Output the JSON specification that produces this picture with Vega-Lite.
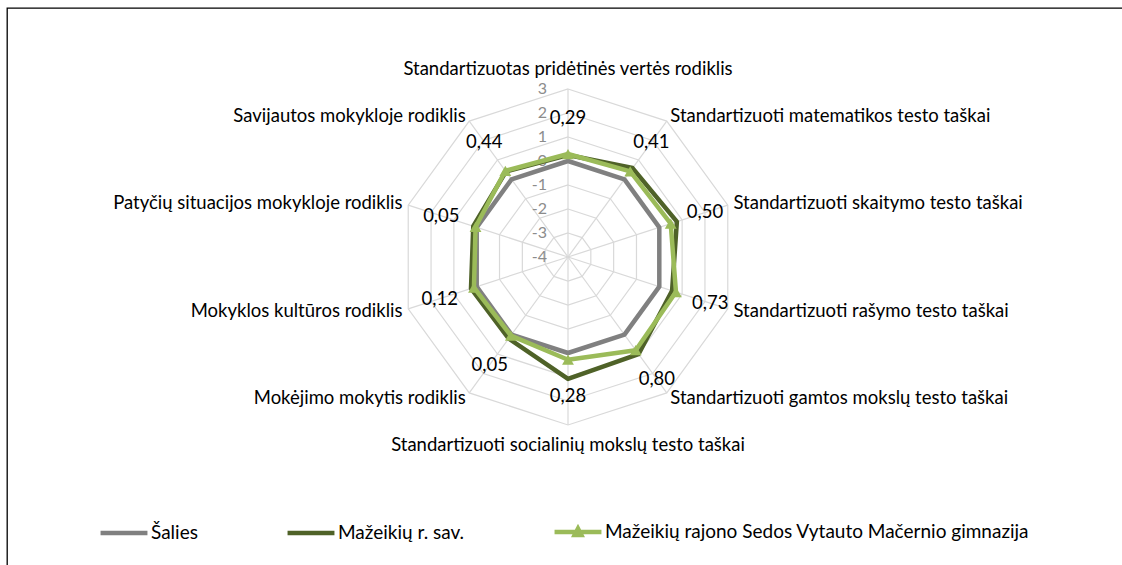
{
  "$schema": "https://vega.github.io/schema/vega-lite/v6.json",
  "width": 1122,
  "height": 565,
  "padding": {"left": 7, "top": 8, "right": 0, "bottom": 0},
  "autosize": {"type": "none"},
  "background": "white",
  "config": {"view": {"stroke": "#000000", "strokeWidth": 1.3}, "font": "Lato"},
  "datasets": {
    "axes": [
      {"i": 0, "cat": "Standartizuotas pridėtinės vertės rodiklis", "rings": [-3, -2, -1, 0, 1, 2, 3]},
      {"i": 1, "cat": "Standartizuoti matematikos testo taškai", "rings": [-3, -2, -1, 0, 1, 2, 3]},
      {"i": 2, "cat": "Standartizuoti skaitymo testo taškai", "rings": [-3, -2, -1, 0, 1, 2, 3]},
      {"i": 3, "cat": "Standartizuoti rašymo testo taškai", "rings": [-3, -2, -1, 0, 1, 2, 3]},
      {"i": 4, "cat": "Standartizuoti gamtos mokslų testo taškai", "rings": [-3, -2, -1, 0, 1, 2, 3]},
      {"i": 5, "cat": "Standartizuoti socialinių mokslų testo taškai", "rings": [-3, -2, -1, 0, 1, 2, 3]},
      {"i": 6, "cat": "Mokėjimo mokytis rodiklis", "rings": [-3, -2, -1, 0, 1, 2, 3]},
      {"i": 7, "cat": "Mokyklos kultūros rodiklis", "rings": [-3, -2, -1, 0, 1, 2, 3]},
      {"i": 8, "cat": "Patyčių situacijos mokykloje rodiklis", "rings": [-3, -2, -1, 0, 1, 2, 3]},
      {"i": 9, "cat": "Savijautos mokykloje rodiklis", "rings": [-3, -2, -1, 0, 1, 2, 3]}
    ],
    "ticks": [
      {"v": 3, "t": "3"}, {"v": 2, "t": "2"}, {"v": 1, "t": "1"}, {"v": 0, "t": "0"},
      {"v": -1, "t": "-1"}, {"v": -2, "t": "-2"}, {"v": -3, "t": "-3"}, {"v": -4, "t": "-4"}
    ],
    "vals": [
      {"i": 0, "series": "Šalies", "value": 0},
      {"i": 1, "series": "Šalies", "value": 0},
      {"i": 2, "series": "Šalies", "value": 0},
      {"i": 3, "series": "Šalies", "value": 0},
      {"i": 4, "series": "Šalies", "value": 0},
      {"i": 5, "series": "Šalies", "value": 0},
      {"i": 6, "series": "Šalies", "value": 0},
      {"i": 7, "series": "Šalies", "value": 0},
      {"i": 8, "series": "Šalies", "value": 0},
      {"i": 9, "series": "Šalies", "value": 0},
      {"i": 0, "series": "Mažeikių r. sav.", "value": 0.25},
      {"i": 1, "series": "Mažeikių r. sav.", "value": 0.58},
      {"i": 2, "series": "Mažeikių r. sav.", "value": 0.77},
      {"i": 3, "series": "Mažeikių r. sav.", "value": 0.56},
      {"i": 4, "series": "Mažeikių r. sav.", "value": 1.0},
      {"i": 5, "series": "Mažeikių r. sav.", "value": 1.08},
      {"i": 6, "series": "Mažeikių r. sav.", "value": 0.2},
      {"i": 7, "series": "Mažeikių r. sav.", "value": 0.25},
      {"i": 8, "series": "Mažeikių r. sav.", "value": 0.15},
      {"i": 9, "series": "Mažeikių r. sav.", "value": 0.4},
      {"i": 0, "series": "Mažeikių rajono Sedos Vytauto Mačernio gimnazija", "value": 0.29, "lab": "0,29"},
      {"i": 1, "series": "Mažeikių rajono Sedos Vytauto Mačernio gimnazija", "value": 0.41, "lab": "0,41"},
      {"i": 2, "series": "Mažeikių rajono Sedos Vytauto Mačernio gimnazija", "value": 0.5, "lab": "0,50"},
      {"i": 3, "series": "Mažeikių rajono Sedos Vytauto Mačernio gimnazija", "value": 0.73, "lab": "0,73"},
      {"i": 4, "series": "Mažeikių rajono Sedos Vytauto Mačernio gimnazija", "value": 0.8, "lab": "0,80"},
      {"i": 5, "series": "Mažeikių rajono Sedos Vytauto Mačernio gimnazija", "value": 0.28, "lab": "0,28"},
      {"i": 6, "series": "Mažeikių rajono Sedos Vytauto Mačernio gimnazija", "value": 0.05, "lab": "0,05"},
      {"i": 7, "series": "Mažeikių rajono Sedos Vytauto Mačernio gimnazija", "value": 0.12, "lab": "0,12"},
      {"i": 8, "series": "Mažeikių rajono Sedos Vytauto Mačernio gimnazija", "value": 0.05, "lab": "0,05"},
      {"i": 9, "series": "Mažeikių rajono Sedos Vytauto Mačernio gimnazija", "value": 0.44, "lab": "0,44"}
    ]
  },
  "layer": [
    {
      "data": {"name": "axes"},
      "transform": [
        {"flatten": ["rings"]},
        {"calculate": "(datum.rings + 4) * sin(datum.i * PI / 5)", "as": "gx"},
        {"calculate": "(datum.rings + 4) * cos(datum.i * PI / 5)", "as": "gy"}
      ],
      "mark": {"type": "line", "interpolate": "linear-closed", "stroke": "#d9d9d9", "strokeWidth": 1.2},
      "encoding": {
        "x": {"field": "gx", "type": "quantitative", "scale": {"domain": [-23.375, 23.375], "nice": false, "zero": false}, "axis": null},
        "y": {"field": "gy", "type": "quantitative", "scale": {"domain": [-13.167, 10.375], "nice": false, "zero": false}, "axis": null},
        "detail": {"field": "rings", "type": "nominal"},
        "order": {"field": "i", "type": "quantitative"}
      }
    },
    {
      "data": {"name": "axes"},
      "transform": [
        {"calculate": "7 * sin(datum.i * PI / 5)", "as": "ox"},
        {"calculate": "7 * cos(datum.i * PI / 5)", "as": "oy"},
        {"calculate": "0", "as": "zero"}
      ],
      "mark": {"type": "rule", "stroke": "#d9d9d9", "strokeWidth": 1.2},
      "encoding": {
        "x": {"field": "zero", "type": "quantitative"},
        "y": {"field": "zero", "type": "quantitative"},
        "x2": {"field": "ox"},
        "y2": {"field": "oy"}
      }
    },
    {
      "data": {"name": "ticks"},
      "transform": [{"calculate": "datum.v + 4", "as": "ty"}, {"calculate": "0", "as": "zero"}],
      "mark": {"type": "text", "align": "right", "baseline": "middle", "dx": -21, "fontSize": 16, "color": "#8c8c8c"},
      "encoding": {
        "x": {"field": "zero", "type": "quantitative"},
        "y": {"field": "ty", "type": "quantitative"},
        "text": {"field": "t", "type": "nominal"}
      }
    },
    {
      "data": {"name": "vals"},
      "transform": [
        {"calculate": "(datum.value + 4) * sin(datum.i * PI / 5)", "as": "px"},
        {"calculate": "(datum.value + 4) * cos(datum.i * PI / 5)", "as": "py"}
      ],
      "mark": {"type": "line", "interpolate": "linear-closed", "strokeWidth": 4.5, "strokeJoin": "round"},
      "encoding": {
        "x": {"field": "px", "type": "quantitative"},
        "y": {"field": "py", "type": "quantitative"},
        "order": {"field": "i", "type": "quantitative"},
        "color": {
          "field": "series",
          "type": "nominal",
          "sort": null,
          "scale": {
            "domain": ["Šalies", "Mažeikių r. sav.", "Mažeikių rajono Sedos Vytauto Mačernio gimnazija"],
            "range": ["#808080", "#4f6228", "#9bbb59"]
          },
          "legend": {
            "orient": "none",
            "legendX": 91,
            "legendY": 498,
            "direction": "horizontal",
            "title": null,
            "symbolType": "stroke",
            "symbolSize": 2200,
            "symbolStrokeWidth": 4.5,
            "labelFont": "Lato",
            "labelFontSize": 19,
            "labelColor": "#000000",
            "labelOffset": 1,
            "labelLimit": 600,
            "columnPadding": 80,
            "encode": {
              "symbols": {
                "update": {
                  "shape": {"signal": "datum.value === 'Mažeikių rajono Sedos Vytauto Mačernio gimnazija' ? 'M-1,0H1M-0.14,0.12L0,-0.15L0.14,0.12Z' : 'stroke'"},
                  "fill": {"signal": "datum.value === 'Mažeikių rajono Sedos Vytauto Mačernio gimnazija' ? '#9bbb59' : 'transparent'"}
                }
              }
            }
          }
        }
      }
    },
    {
      "data": {"name": "vals"},
      "transform": [
        {"filter": "datum.series === 'Mažeikių rajono Sedos Vytauto Mačernio gimnazija'"},
        {"calculate": "(datum.value + 4) * sin(datum.i * PI / 5)", "as": "px"},
        {"calculate": "(datum.value + 4) * cos(datum.i * PI / 5)", "as": "py"}
      ],
      "mark": {"type": "point", "shape": "triangle-up", "filled": true, "size": 140, "color": "#9bbb59", "opacity": 1},
      "encoding": {
        "x": {"field": "px", "type": "quantitative"},
        "y": {"field": "py", "type": "quantitative"}
      }
    },
    {
      "data": {"name": "vals"},
      "transform": [
        {"filter": "datum.series === 'Mažeikių rajono Sedos Vytauto Mačernio gimnazija'"},
        {"calculate": "(datum.value + 5.5) * sin(datum.i * PI / 5)", "as": "lx"},
        {"calculate": "(datum.value + 5.5) * cos(datum.i * PI / 5)", "as": "ly"}
      ],
      "mark": {"type": "text", "align": "center", "baseline": "middle", "fontSize": 18.5, "color": "#000000"},
      "encoding": {
        "x": {"field": "lx", "type": "quantitative"},
        "y": {"field": "ly", "type": "quantitative"},
        "text": {"field": "lab", "type": "nominal"}
      }
    },
    {
      "data": {"name": "axes"},
      "transform": [
        {"filter": "datum.i === 0 || datum.i === 5"},
        {"calculate": "7.85 * sin(datum.i * PI / 5)", "as": "cx"},
        {"calculate": "7.85 * cos(datum.i * PI / 5)", "as": "cy"}
      ],
      "mark": {"type": "text", "align": "center", "baseline": "middle", "fontSize": 18.5, "color": "#000000"},
      "encoding": {
        "x": {"field": "cx", "type": "quantitative"},
        "y": {"field": "cy", "type": "quantitative"},
        "text": {"field": "cat", "type": "nominal"}
      }
    },
    {
      "data": {"name": "axes"},
      "transform": [
        {"filter": "datum.i >= 1 && datum.i <= 4"},
        {"calculate": "7.25 * sin(datum.i * PI / 5)", "as": "cx"},
        {"calculate": "7.25 * cos(datum.i * PI / 5)", "as": "cy"}
      ],
      "mark": {"type": "text", "align": "left", "baseline": "middle", "fontSize": 18.5, "color": "#000000"},
      "encoding": {
        "x": {"field": "cx", "type": "quantitative"},
        "y": {"field": "cy", "type": "quantitative"},
        "text": {"field": "cat", "type": "nominal"}
      }
    },
    {
      "data": {"name": "axes"},
      "transform": [
        {"filter": "datum.i >= 6"},
        {"calculate": "7.25 * sin(datum.i * PI / 5)", "as": "cx"},
        {"calculate": "7.25 * cos(datum.i * PI / 5)", "as": "cy"}
      ],
      "mark": {"type": "text", "align": "right", "baseline": "middle", "fontSize": 18.5, "color": "#000000"},
      "encoding": {
        "x": {"field": "cx", "type": "quantitative"},
        "y": {"field": "cy", "type": "quantitative"},
        "text": {"field": "cat", "type": "nominal"}
      }
    }
  ]
}
